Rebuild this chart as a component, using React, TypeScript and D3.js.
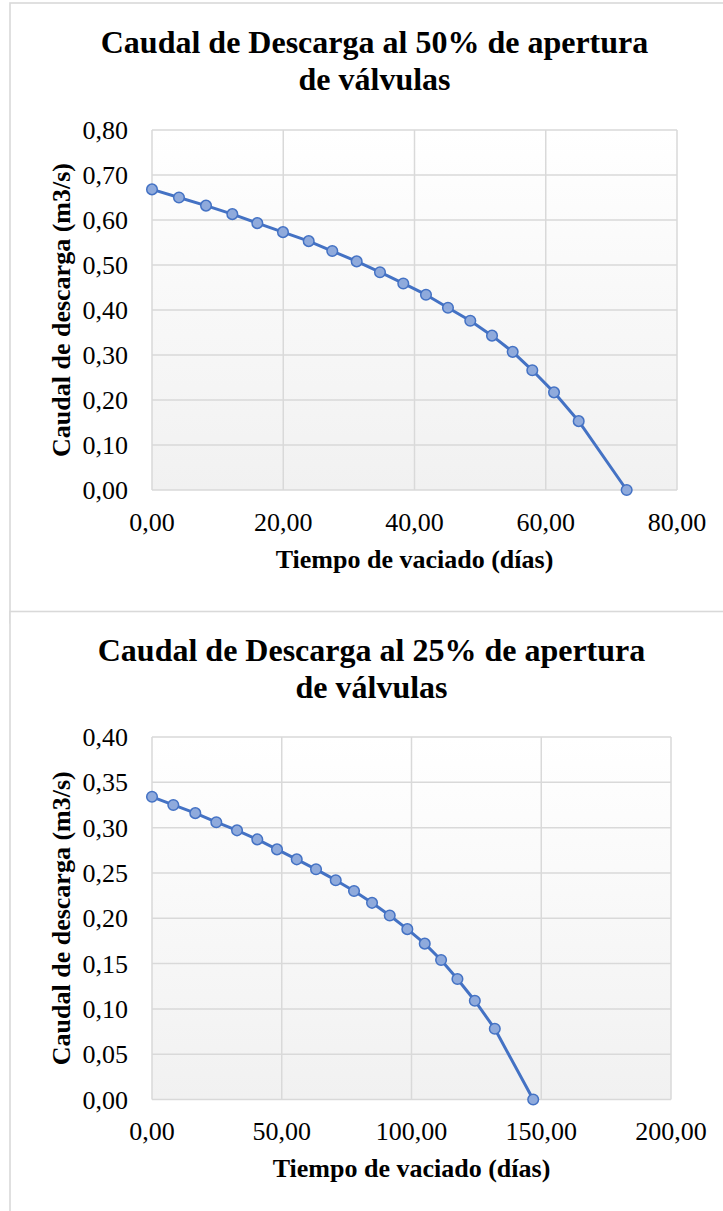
import React from "react";
import * as d3 from "d3";

// Discharge curves: emptying time (days) vs. discharge (m3/s)
const tiempo50 = [0, 4.11, 8.23, 12.24, 16.05, 19.96, 23.88, 27.47, 31.19, 34.74, 38.29, 41.75, 45.1, 48.5, 51.81, 54.96, 57.95, 61.26, 65.02, 72.33];
const caudal50 = [0.668, 0.65, 0.632, 0.613, 0.593, 0.573, 0.553, 0.531, 0.508, 0.484, 0.459, 0.434, 0.405, 0.376, 0.343, 0.307, 0.266, 0.217, 0.153, 0];

const tiempo25 = [0, 8.21, 16.69, 24.78, 32.76, 40.58, 48.17, 55.77, 63.21, 70.8, 77.85, 84.79, 91.61, 98.39, 105.1, 111.4, 117.7, 124.4, 132.1, 146.9];
const caudal25 = [0.334, 0.325, 0.316, 0.306, 0.297, 0.287, 0.276, 0.265, 0.254, 0.242, 0.23, 0.217, 0.203, 0.188, 0.172, 0.154, 0.133, 0.109, 0.078, 0];

const xTicks50 = [0, 20, 40, 60, 80];
const yTicks50 = [0, 0.1, 0.2, 0.3, 0.4, 0.5, 0.6, 0.7, 0.8];
const xTicks25 = [0, 50, 100, 150, 200];
const yTicks25 = [0, 0.05, 0.1, 0.15, 0.2, 0.25, 0.3, 0.35, 0.4];

const titles50 = ["Caudal de Descarga al 50% de apertura", "de válvulas"];
const titles25 = ["Caudal de Descarga al 25% de apertura", "de válvulas"];
const xTitle = "Tiempo de vaciado (días)";
const yTitle = "Caudal de descarga (m3/s)";

const FONT = "'Liberation Serif', 'Times New Roman', serif";
const GRID = "#d9d9d9";
const LINE = "#4472c4";
const MARKER = "#8faadc";

const fmt = (v: number) => v.toFixed(2).replace(".", ",");

type ChartProps = {
  id: string;
  frameTop: number;
  left: number;
  right: number;
  top: number;
  bottom: number;
  titleY: number;
  titles: string[];
  xs: number[];
  ys: number[];
  xTicks: number[];
  yTicks: number[];
};

function Chart(p: ChartProps) {
  const x = d3.scaleLinear().domain([p.xTicks[0], p.xTicks[p.xTicks.length - 1]]).range([p.left, p.right]);
  const y = d3.scaleLinear().domain([p.yTicks[0], p.yTicks[p.yTicks.length - 1]]).range([p.bottom, p.top]);
  const pts = p.xs.map((v, i) => [v, p.ys[i]] as [number, number]);
  const line = d3.line<[number, number]>().x((d) => x(d[0])).y((d) => y(d[1]));
  const cx = (p.left + p.right) / 2;
  const cy = (p.top + p.bottom) / 2;
  return (
    <g>
      <rect x={10} y={p.frameTop} width={740} height={620} fill="#fff" stroke={GRID} strokeWidth={1.6} />
      {p.titles.map((t, i) => (
        <text key={i} x={cx - 40} y={p.titleY + i * 37} textAnchor="middle" fontFamily={FONT} fontWeight="bold" fontSize={32} fill="#000">
          {t}
        </text>
      ))}
      <defs>
        <linearGradient id={p.id} x1="0" y1="0" x2="0" y2="1">
          <stop offset="0" stopColor="#ffffff" />
          <stop offset="1" stopColor="#f1f1f1" />
        </linearGradient>
      </defs>
      <rect x={p.left} y={p.top} width={p.right - p.left} height={p.bottom - p.top} fill={`url(#${p.id})`} />
      {p.yTicks.map((t) => (
        <line key={"gy" + t} x1={p.left} x2={p.right} y1={y(t)} y2={y(t)} stroke={GRID} strokeWidth={1.5} />
      ))}
      {p.xTicks.map((t) => (
        <line key={"gx" + t} x1={x(t)} x2={x(t)} y1={p.top} y2={p.bottom} stroke={GRID} strokeWidth={1.5} />
      ))}
      {p.yTicks.map((t) => (
        <text key={"ly" + t} x={p.left - 24} y={y(t) + 9} textAnchor="end" fontFamily={FONT} fontSize={26} fill="#000">
          {fmt(t)}
        </text>
      ))}
      {p.xTicks.map((t) => (
        <text key={"lx" + t} x={x(t)} y={p.bottom + 40.5} textAnchor="middle" fontFamily={FONT} fontSize={26} fill="#000">
          {fmt(t)}
        </text>
      ))}
      <text x={cx} y={p.bottom + 77.5} textAnchor="middle" fontFamily={FONT} fontWeight="bold" fontSize={26} fill="#000">
        {xTitle}
      </text>
      <text transform={`translate(70,${cy}) rotate(-90)`} textAnchor="middle" fontFamily={FONT} fontWeight="bold" fontSize={26} fill="#000">
        {yTitle}
      </text>
      <path d={line(pts) || ""} fill="none" stroke={LINE} strokeWidth={3} strokeLinejoin="round" />
      {pts.map((d, i) => (
        <circle key={i} cx={x(d[0])} cy={y(d[1])} r={5.3} fill={MARKER} stroke={LINE} strokeWidth={1.5} />
      ))}
    </g>
  );
}

export default function App() {
  return (
    <svg width={723} height={1211} style={{ position: "absolute", left: 0, top: 0, background: "#fff" }}>
      <Chart id="g50" frameTop={3} left={152} right={677} top={130} bottom={490} titleY={53} titles={titles50}
        xs={tiempo50} ys={caudal50} xTicks={xTicks50} yTicks={yTicks50} />
      <Chart id="g25" frameTop={611.5} left={152} right={671} top={737} bottom={1099.5} titleY={661} titles={titles25}
        xs={tiempo25} ys={caudal25} xTicks={xTicks25} yTicks={yTicks25} />
    </svg>
  );
}
